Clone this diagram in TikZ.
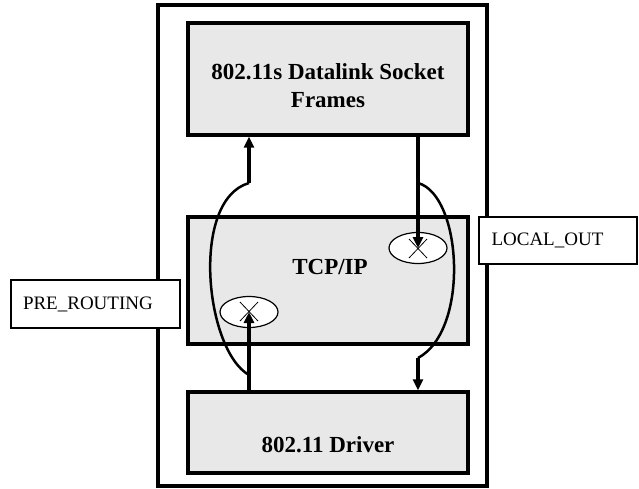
\documentclass[tikz,border=0pt]{standalone}
\usepackage{fontspec}
\setmainfont{Liberation Serif}
\usetikzlibrary{arrows.meta,shapes.geometric,calc}
\definecolor{boxgray}{RGB}{232,232,232}
\tikzset{
  layerbox/.style={draw=black,fill=boxgray,line width=3.4pt,minimum width=280pt,inner sep=0pt},
  title/.style={font=\fontsize{23}{28}\selectfont\bfseries,align=center,inner sep=0pt},
  hookbox/.style={draw=black,fill=white,line width=1.7pt,inner xsep=12pt,inner ysep=0pt,align=left,font=\fontsize{19}{22}\selectfont},
  hook/.style={ellipse,draw=black,fill=white,line width=1.2pt,minimum width=58pt,minimum height=31pt,inner sep=0pt},
  flow/.style={line width=3.6pt,-{Triangle[length=11pt,width=10pt]}},
  bypass/.style={line width=2.5pt},
  cross/.style={line width=0.8pt}
}
\begin{document}
\begin{tikzpicture}[x=1pt,y=-1pt]
\useasboundingbox (0,0) rectangle (639,488);
% outer frame
\node[draw=black,line width=3.4pt,minimum width=329pt,minimum height=481pt,inner sep=0pt] (outer) at (322.5,245.5) {};
% layer boxes
\node[layerbox,minimum height=112pt] (top) at (328,79) {};
\node[layerbox,minimum height=127pt] (tcp) at (328,280.5) {};
\node[layerbox,minimum height=81pt] (drv) at (328,432.5) {};
\node[title] (toptext) at (328,86) {802.11s Datalink Socket\\Frames};
\node[title] (tcptext) at (330,267) {TCP/IP};
\node[title] (drvtext) at (328,445) {802.11 Driver};
% hook points
\node[hook] (pre) at (249,312) {};
\node[hook] (lo) at (418,248) {};
\draw[cross] ($(pre)+(-9,-10)$) -- ($(pre)+(9,9)$);
\draw[cross] ($(pre)+(9,-10)$) -- ($(pre)+(-9,9)$);
\draw[cross] ($(lo)+(-9,-9)$) -- ($(lo)+(9,10)$);
\draw[cross] ($(lo)+(9,-9)$) -- ($(lo)+(-9,10)$);
% connector points
\coordinate (la) at (249,183);
\coordinate (lb) at (249,375);
\coordinate (ra) at (418,183);
\coordinate (rb) at (418,358);
% bypass curves
\draw[bypass] (lb) .. controls (205,350) and (190,200) .. (la);
\draw[bypass] (ra) .. controls (462,195) and (470,330) .. (rb);
% flows
\draw[flow] (drv.north -| pre) -- (pre.center);
\draw[flow] (la) -- (la |- top.south);
\draw[flow] (ra |- top.south) -- (lo.center);
\draw[flow] (rb) -- (rb |- drv.north);
% hook labels
\node[hookbox,text width=145pt,minimum height=48pt] (prelabel) at (95.5,304) {PRE\_ROUTING};
\node[hookbox,text width=133pt,inner xsep=12.5pt,minimum height=47pt] (lolabel) at (558,240.5) {LOCAL\_OUT};
\end{tikzpicture}
\end{document}
